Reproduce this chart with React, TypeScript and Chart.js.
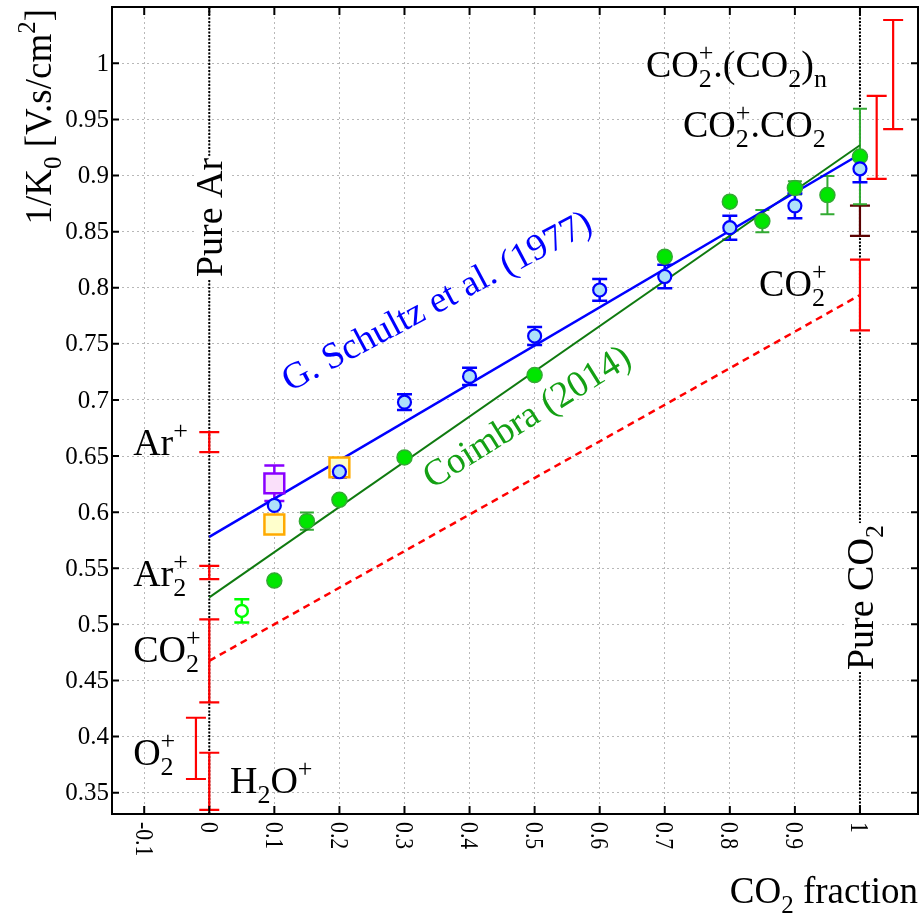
import { useEffect, useRef } from "react";
import { Chart, registerables } from "chart.js";
Chart.register(...registerables);

const FONT = "'Liberation Serif', 'Times New Roman', Times, serif";

// ---- axes ----
const xTicks = [-0.1, 0, 0.1, 0.2, 0.3, 0.4, 0.5, 0.6, 0.7, 0.8, 0.9, 1];
const xTickLabels = ["-0.1", "0", "0.1", "0.2", "0.3", "0.4", "0.5", "0.6", "0.7", "0.8", "0.9", "1"];
const yTicks = [0.35, 0.4, 0.45, 0.5, 0.55, 0.6, 0.65, 0.7, 0.75, 0.8, 0.85, 0.9, 0.95, 1];
const yTickLabels = ["0.35", "0.4", "0.45", "0.5", "0.55", "0.6", "0.65", "0.7", "0.75", "0.8", "0.85", "0.9", "0.95", "1"];
const xRange = [-0.1495, 1.0892];
const yRange = [0.331, 1.0502];
const pureLinesX = [0, 1];

// ---- G. Schultz et al. (1977) ----
const schultzX = [0.1, 0.2, 0.3, 0.4, 0.5, 0.6, 0.7, 0.8, 0.9, 1.0];
const schultzY = [0.606, 0.636, 0.698, 0.721, 0.757, 0.798, 0.81, 0.8535, 0.873, 0.906];
const schultzErr = [0, 0.005, 0.007, 0.0076, 0.008, 0.0097, 0.0105, 0.0107, 0.011, 0.012];

// ---- Coimbra (2014) ----
const coimbraX = [0.1, 0.15, 0.2, 0.3, 0.5, 0.7, 0.8, 0.85, 0.9, 0.95, 1.0];
const coimbraY = [0.539, 0.592, 0.611, 0.6488, 0.7222, 0.8277, 0.8767, 0.8594, 0.889, 0.8826, 0.917];
const coimbraErr = [0, 0.0077, 0, 0, 0, 0, 0, 0.0099, 0.006, 0.017, 0.0425];

// ---- other measurements ----
const openX = [0.05];
const openY = [0.512];
const openErr = [0.0104];
const purpleX = [0.1];
const purpleY = [0.6257];
const purpleErr = [0.0158];
const orangeX = [0.1, 0.2];
const orangeY = [0.589, 0.64];

// ---- reference ion mobilities ----
const ionX = [0, 0, 0, -0.0205, 0, 1, 1.0257, 1.051];
const ionY = [0.6624, 0.5463, 0.4675, 0.3895, 0.3601, 0.7935, 0.934, 0.99];
const ionErr = [0.0089, 0.0059, 0.037, 0.0273, 0.0255, 0.0315, 0.037, 0.0486];
const darkX = [1];
const darkY = [0.8597];
const darkErr = [0.0135];

// ---- fits ----
const fitX = [0, 1];
const schultzFit = [0.578, 0.919];
const coimbraFit = [0.524, 0.927];
const blancFit = [0.4675, 0.7935];

type Seg = { t?: string; sub?: string; sup?: string };

const ionLabels: { x: number; y: number; segs: Seg[] }[] = [
  { x: -0.117, y: 0.651, segs: [{ t: "Ar" }, { sup: "+" }] },
  { x: -0.117, y: 0.534, segs: [{ t: "Ar" }, { sub: "2", sup: "+" }] },
  { x: -0.117, y: 0.4664, segs: [{ t: "CO" }, { sub: "2", sup: "+" }] },
  { x: -0.117, y: 0.3746, segs: [{ t: "O" }, { sub: "2", sup: "+" }] },
  { x: 0.0318, y: 0.3496, segs: [{ t: "H" }, { sub: "2" }, { t: "O" }, { sup: "+" }] },
  { x: 0.671, y: 0.9878, segs: [{ t: "CO" }, { sub: "2", sup: "+" }, { t: ".(CO" }, { sub: "2" }, { t: ")" }, { sub: "n" }] },
  { x: 0.728, y: 0.9343, segs: [{ t: "CO" }, { sub: "2", sup: "+" }, { t: ".CO" }, { sub: "2" }] },
  { x: 0.845, y: 0.7926, segs: [{ t: "CO" }, { sub: "2", sup: "+" }] },
];

function richWidth(ctx: CanvasRenderingContext2D, segs: Seg[], size: number) {
  const small = Math.round(size * 0.68);
  let w = 0;
  for (const s of segs) {
    if (s.t !== undefined) {
      ctx.font = `${size}px ${FONT}`;
      w += ctx.measureText(s.t).width;
    } else {
      ctx.font = `${small}px ${FONT}`;
      w += Math.max(s.sub ? ctx.measureText(s.sub).width : 0, s.sup ? ctx.measureText(s.sup).width : 0);
    }
  }
  return w;
}

function drawRich(ctx: CanvasRenderingContext2D, segs: Seg[], x: number, y: number, size: number, color: string) {
  const small = Math.round(size * 0.68);
  ctx.fillStyle = color;
  ctx.textAlign = "left";
  ctx.textBaseline = "alphabetic";
  let cx = x;
  for (const s of segs) {
    if (s.t !== undefined) {
      ctx.font = `${size}px ${FONT}`;
      ctx.fillText(s.t, cx, y);
      cx += ctx.measureText(s.t).width;
    } else {
      ctx.font = `${small}px ${FONT}`;
      let w = 0;
      if (s.sub) {
        ctx.fillText(s.sub, cx, y + size * 0.27);
        w = Math.max(w, ctx.measureText(s.sub).width);
      }
      if (s.sup) {
        ctx.fillText(s.sup, cx, y - size * 0.42);
        w = Math.max(w, ctx.measureText(s.sup).width);
      }
      cx += w;
    }
  }
}

const pts = (xs: number[], ys: number[]) => xs.map((x, i) => ({ x, y: ys[i] }));

const customPlugin = {
  id: "custom",
  beforeDatasetsDraw(chart: any) {
    const { ctx, chartArea: a, scales } = chart;
    const sx = scales.x, sy = scales.y;
    ctx.save();
    ctx.strokeStyle = "#000";
    ctx.lineWidth = 2;
    ctx.setLineDash([2, 1.5]);
    for (const v of pureLinesX) {
      const px = sx.getPixelForValue(v);
      ctx.beginPath();
      ctx.moveTo(px, a.top);
      ctx.lineTo(px, a.bottom);
      ctx.stroke();
    }
    ctx.setLineDash([]);
    chart.data.datasets.forEach((ds: any) => {
      if (!ds.errors) return;
      ctx.strokeStyle = ds.errColor;
      ctx.lineWidth = ds.errWidth;
      ds.data.forEach((p: any, i: number) => {
        const e = ds.errors[i];
        if (!e) return;
        const px = sx.getPixelForValue(p.x);
        const y1 = sy.getPixelForValue(p.y - e);
        const y2 = sy.getPixelForValue(p.y + e);
        const c = ds.capWidth / 2;
        ctx.beginPath();
        ctx.moveTo(px, y1);
        ctx.lineTo(px, y2);
        ctx.moveTo(px - c, y1);
        ctx.lineTo(px + c, y1);
        ctx.moveTo(px - c, y2);
        ctx.lineTo(px + c, y2);
        ctx.stroke();
      });
    });
    ctx.restore();
  },
  afterDatasetsDraw(chart: any) {
    const { ctx, scales } = chart;
    const sx = scales.x, sy = scales.y;
    ctx.save();
    for (const l of ionLabels) {
      drawRich(ctx, l.segs, sx.getPixelForValue(l.x), sy.getPixelForValue(l.y), 38, "#000");
    }
    const vert = (segs: Seg[], vx: number, vy: number) => {
      const size = 38;
      const w = richWidth(ctx, segs, size);
      ctx.save();
      ctx.translate(sx.getPixelForValue(vx), sy.getPixelForValue(vy));
      ctx.rotate(-Math.PI / 2);
      ctx.fillStyle = "#fff";
      ctx.fillRect(-2, -size * 0.72, w + 4, size * 0.95);
      drawRich(ctx, segs, 0, 0, size, "#000");
      ctx.restore();
    };
    vert([{ t: "Pure Ar" }], 0.0195, 0.8095);
    vert([{ t: "Pure CO" }, { sub: "2" }], 1.0198, 0.4593);
    const slant = (text: string, vx: number, vy: number, deg: number, color: string) => {
      ctx.save();
      ctx.translate(sx.getPixelForValue(vx), sy.getPixelForValue(vy));
      ctx.rotate((-deg * Math.PI) / 180);
      drawRich(ctx, [{ t: text }], 0, 0, 37, color);
      ctx.restore();
    };
    slant("G. Schultz et al. (1977)", 0.1235, 0.707, 28, "#0000ff");
    slant("Coimbra (2014)", 0.3425, 0.6205, 32, "#14a014");
    ctx.restore();
  },
  afterDraw(chart: any) {
    const { ctx, chartArea: a, scales } = chart;
    const sx = scales.x, sy = scales.y;
    ctx.save();
    ctx.strokeStyle = "#000";
    ctx.lineWidth = 2;
    ctx.strokeRect(a.left, a.top, a.right - a.left, a.bottom - a.top);
    ctx.beginPath();
    for (const v of xTicks) {
      const px = sx.getPixelForValue(v);
      ctx.moveTo(px, a.bottom);
      ctx.lineTo(px, a.bottom - 8);
      ctx.moveTo(px, a.top);
      ctx.lineTo(px, a.top + 8);
    }
    for (const v of yTicks) {
      const py = sy.getPixelForValue(v);
      ctx.moveTo(a.left, py);
      ctx.lineTo(a.left + 7, py);
      ctx.moveTo(a.right, py);
      ctx.lineTo(a.right - 7, py);
    }
    ctx.stroke();
    const ts = 25;
    ctx.fillStyle = "#000";
    ctx.font = `${ts}px ${FONT}`;
    // y tick labels
    ctx.textAlign = "right";
    ctx.textBaseline = "middle";
    yTicks.forEach((v, i) => {
      ctx.fillText(yTickLabels[i], a.left - 3, sy.getPixelForValue(v) + 1);
    });
    // rotated x tick labels (clockwise)
    ctx.textAlign = "left";
    ctx.textBaseline = "alphabetic";
    xTicks.forEach((v, i) => {
      ctx.save();
      ctx.translate(sx.getPixelForValue(v), a.bottom + 8);
      ctx.rotate(Math.PI / 2);
      ctx.scale(0.87, 1);
      ctx.fillText(xTickLabels[i], 0, ts * 0.34);
      ctx.restore();
    });
    const xt: Seg[] = [{ t: "CO" }, { sub: "2" }, { t: " fraction" }];
    const xw = richWidth(ctx, xt, 37);
    drawRich(ctx, xt, a.right - xw, 903, 37, "#000");
    const yt: Seg[] = [{ t: "1/K" }, { sub: "0" }, { t: " [V.s/cm" }, { sup: "2" }, { t: "]" }];
    const yw = richWidth(ctx, yt, 37);
    ctx.save();
    ctx.translate(51, 9 + yw);
    ctx.rotate(-Math.PI / 2);
    drawRich(ctx, yt, 0, 0, 37, "#000");
    ctx.restore();
    ctx.restore();
  },
};

const zeroPad = (s: any) => {
  s.paddingTop = 0;
  s.paddingBottom = 0;
  s.paddingLeft = 0;
  s.paddingRight = 0;
};

export default function App() {
  const ref = useRef<HTMLCanvasElement>(null);
  useEffect(() => {
    const canvas = ref.current!;
    const line = (ys: number[], color: string, width: number, dash: number[] = []) => ({
      data: pts(fitX, ys),
      showLine: true,
      borderColor: color,
      borderWidth: width,
      borderDash: dash,
      pointRadius: 0,
      fill: false,
      order: 10,
    });
    const ref0 = (xs: number[], ys: number[], errs: number[], color: string) => ({
      data: pts(xs, ys),
      pointRadius: 0,
      showLine: false,
      errors: errs,
      errColor: color,
      errWidth: 2.2,
      capWidth: 20,
      order: 20,
    });
    const chart = new Chart(canvas, {
      type: "scatter",
      data: {
        datasets: [
          line(schultzFit, "#0000ff", 2.5) as any,
          line(coimbraFit, "#0f7a0f", 2) as any,
          line(blancFit, "#ff0000", 2.5, [7, 5]) as any,
          ref0(ionX, ionY, ionErr, "#ff0000") as any,
          ref0(darkX, darkY, darkErr, "#5a0000") as any,
          {
            data: pts(orangeX, orangeY),
            pointStyle: "rect",
            pointRadius: 14,
            pointBorderWidth: 2.5,
            pointBorderColor: "#ffaa00",
            pointBackgroundColor: "#ffffcc",
            order: 4,
          } as any,
          {
            data: pts(purpleX, purpleY),
            pointStyle: "rect",
            pointRadius: 14,
            pointBorderWidth: 2.5,
            pointBorderColor: "#8800ff",
            pointBackgroundColor: "#fae0fa",
            errors: purpleErr,
            errColor: "#8800ff",
            errWidth: 2.5,
            capWidth: 20,
            order: 4,
          } as any,
          {
            data: pts(openX, openY),
            pointRadius: 6,
            pointBorderWidth: 2.5,
            pointBorderColor: "#00ff00",
            pointBackgroundColor: "#ffffff",
            errors: openErr,
            errColor: "#00ff00",
            errWidth: 2.5,
            capWidth: 15,
            order: 3,
          } as any,
          {
            data: pts(coimbraX, coimbraY),
            pointRadius: 7.5,
            pointBorderWidth: 1.5,
            pointBorderColor: "#33aa33",
            pointBackgroundColor: "#00e600",
            errors: coimbraErr,
            errColor: "#33aa33",
            errWidth: 2,
            capWidth: 14,
            order: 2,
          } as any,
          {
            data: pts(schultzX, schultzY),
            pointRadius: 6.5,
            pointBorderWidth: 2.2,
            pointBorderColor: "#0000ff",
            pointBackgroundColor: "#aee0fa",
            errors: schultzErr,
            errColor: "#0000ff",
            errWidth: 2.5,
            capWidth: 15,
            order: 1,
          } as any,
        ],
      },
      options: {
        responsive: false,
        animation: false,
        events: [],
        layout: { autoPadding: false, padding: { left: 0, top: 7, right: 3, bottom: 0 } },
        plugins: { legend: { display: false }, tooltip: { enabled: false } },
        scales: {
          x: {
            type: "linear",
            min: xRange[0],
            max: xRange[1],
            afterBuildTicks: (s: any) => {
              s.ticks = xTicks.map((v) => ({ value: v }));
            },
            afterFit: (s: any) => {
              s.height = 99;
              zeroPad(s);
            },
            ticks: { display: false },
            grid: { color: "#b8b8b8", lineWidth: 1, drawTicks: false },
            border: { display: false, dash: [2, 3] },
          },
          y: {
            type: "linear",
            min: yRange[0],
            max: yRange[1],
            afterBuildTicks: (s: any) => {
              s.ticks = yTicks.map((v) => ({ value: v }));
            },
            afterFit: (s: any) => {
              s.width = 112;
              zeroPad(s);
            },
            ticks: { display: false },
            grid: { color: "#b8b8b8", lineWidth: 1, drawTicks: false },
            border: { display: false, dash: [2, 3] },
          },
        },
      } as any,
      plugins: [customPlugin],
    });
    return () => chart.destroy();
  }, []);
  return (
    <canvas
      ref={ref}
      width={921}
      height={913}
      style={{ position: "absolute", left: 0, top: 0, width: 921, height: 913, display: "block" }}
    />
  );
}
